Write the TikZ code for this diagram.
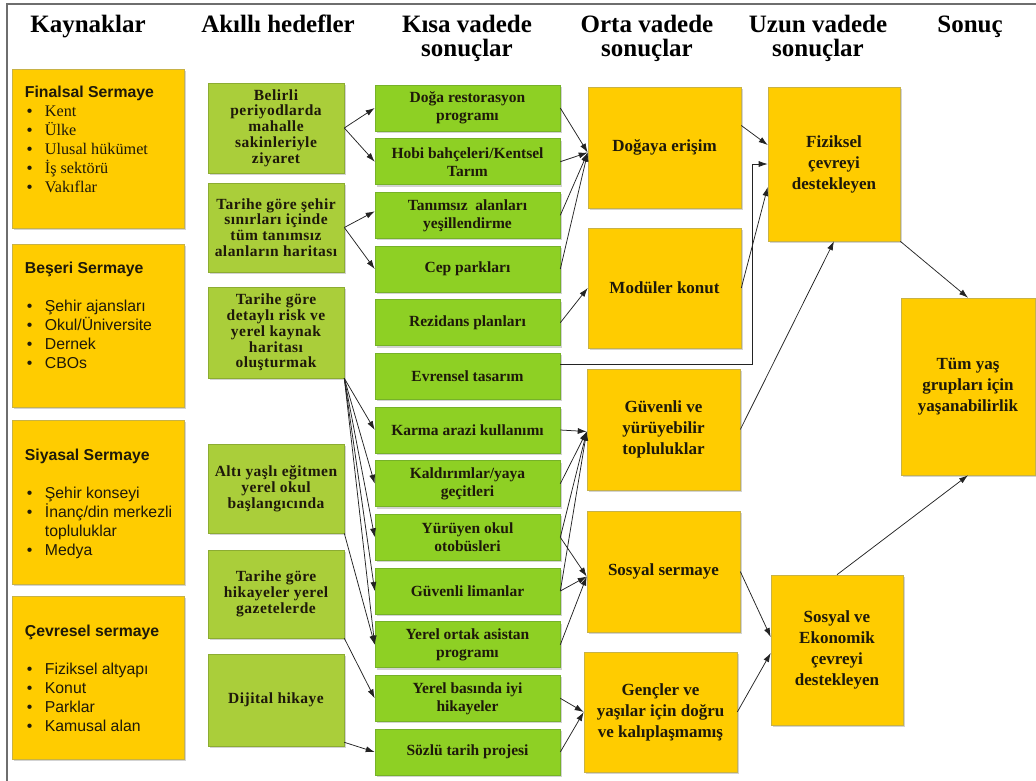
\documentclass[tikz,border=0pt]{standalone}
\usepackage{fontspec}
\setmainfont{Liberation Serif}
\setsansfont{Liberation Sans}
\usetikzlibrary{arrows.meta,shadows,calc}

\definecolor{sari}{RGB}{255,204,0}
\definecolor{sariKenar}{RGB}{200,178,70}
\definecolor{acikYesil}{RGB}{170,206,58}
\definecolor{acikKenar}{RGB}{140,172,50}
\definecolor{yesil}{RGB}{142,208,36}
\definecolor{yesilKenar}{RGB}{118,178,40}
\definecolor{metin}{RGB}{30,25,10}
\definecolor{okRenk}{RGB}{35,35,35}
\definecolor{cerceve}{RGB}{110,110,110}

\newcommand{\kalem}[1]{\hspace*{2pt}\makebox[18pt][l]{\textbullet}#1}
\newcommand{\kalemR}[1]{\hspace*{2pt}\makebox[18pt][l]{\textbullet}{\rmfamily\fontsize{16.2}{19}\selectfont #1}}

\tikzset{
  kutu/.style={draw=sariKenar, fill=sari, line width=0.6pt, inner sep=2pt, align=center, text=metin,
    drop shadow={shadow xshift=1.5pt, shadow yshift=-2pt, opacity=0.35},
    font=\bfseries\fontsize{17}{21}\selectfont},
  kaynak/.style={kutu, minimum width=172pt, minimum height=162pt},
  kaynakmetin/.style={align=left, inner sep=0pt, text=metin, font=\sffamily\fontsize{15.8}{19}\selectfont},
  hedef/.style={kutu, draw=acikKenar, fill=acikYesil, minimum width=136pt, minimum height=90pt,
    font=\bfseries\fontsize{15.5}{15.8}\selectfont\addfontfeature{LetterSpace=3}},
  kisa/.style={kutu, draw=yesilKenar, fill=yesil, minimum width=185pt, minimum height=46pt,
    font=\bfseries\fontsize{15.5}{18}\selectfont},
  orta/.style={kutu, minimum width=153pt, minimum height=121pt},
  uzun/.style={kutu, minimum width=132pt},
  baslik/.style={font=\bfseries\fontsize{25}{24}\selectfont, align=center, inner sep=0pt},
  ok/.style={draw=okRenk, line width=0.75pt, -{Latex[length=9pt,width=6pt]}},
}

\begin{document}
\begin{tikzpicture}[x=1pt,y=1pt,yscale=-1]
\useasboundingbox (0,0) rectangle (1036,780);
\draw[cerceve, line width=1.6pt] (7,782) -- (7,4) -- (1038,4);

% basliklar
\node[baslik, anchor=base] (hKay) at (88,32) {Kaynaklar};
\node[baslik, anchor=base] (hAkil) at (278,32) {Akıllı hedefler};
\node[baslik, anchor=base] (hKisa) at (467,56) {Kısa vadede\\sonuçlar};
\node[baslik, anchor=base] (hOrta) at (647,56) {Orta vadede\\sonuçlar};
\node[baslik, anchor=base] (hUzun) at (818,56) {Uzun vadede\\sonuçlar};
\node[baslik, anchor=base] (hSonuc) at (970,32) {Sonuç};

% kaynaklar
\node[kaynak, minimum height=159pt] (fin) at (98,148.5) {};
\node[kaynak, minimum height=163pt] (bes) at (98,325.5) {};
\node[kaynak, minimum height=164pt] (siy) at (98,502) {};
\node[kaynak, minimum height=163pt] (cev) at (98,677.5) {};
\node[kaynakmetin, anchor=north west] (finM) at ($(fin.north west)+(13,17)$)
  {\textbf{Finalsal Sermaye}\\\kalemR{Kent}\\\kalemR{Ülke}\\\kalemR{Ulusal hükümet}\\\kalemR{İş sektörü}\\\kalemR{Vakıflar}};
\node[kaynakmetin, anchor=north west] (besM) at ($(bes.north west)+(13,18)$)
  {\textbf{Beşeri Sermaye}\\[19pt]\kalem{Şehir ajansları}\\\kalem{Okul/Üniversite}\\\kalem{Dernek}\\\kalem{CBOs}};
\node[kaynakmetin, anchor=north west] (siyM) at ($(siy.north west)+(13,29)$)
  {\textbf{Siyasal Sermaye}\\[19pt]\kalem{Şehir konseyi}\\\kalem{İnanç/din merkezli}\\\hspace*{20pt}topluluklar\\\kalem{Medya}};
\node[kaynakmetin, anchor=north west] (cevM) at ($(cev.north west)+(13,29)$)
  {\textbf{Çevresel sermaye}\\[19pt]\kalem{Fiziksel altyapı}\\\kalem{Konut}\\\kalem{Parklar}\\\kalem{Kamusal alan}};

% akilli hedefler
\node[hedef] (b1) at (276,128) {Belirli\\periyodlarda\\mahalle\\sakinleriyle\\ziyaret};
\node[hedef, minimum height=89pt] (b2) at (276,227.5) {Tarihe göre şehir\\sınırları içinde\\tüm tanımsız\\alanların haritası};
\node[hedef, minimum height=91pt] (b3) at (276,332.5) {Tarihe göre\\detaylı risk ve\\yerel kaynak\\haritası\\oluşturmak};
\node[hedef, minimum height=89pt] (b4) at (276,488.5) {Altı yaşlı eğitmen\\yerel okul\\başlangıcında};
\node[hedef, minimum height=88pt] (b5) at (276,594) {Tarihe göre\\hikayeler yerel\\gazetelerde};
\node[hedef, minimum height=92pt] (b6) at (276,700) {Dijital hikaye};

% kisa vadede
\node[kisa] (g1) at (467.5,108) {Doğa restorasyon\\programı};
\node[kisa] (g2) at (467.5,161.7) {Hobi bahçeleri/Kentsel\\Tarım};
\node[kisa] (g3) at (467.5,215.3) {Tanımsız~ alanları\\yeşillendirme};
\node[kisa] (g4) at (467.5,269) {Cep parkları};
\node[kisa] (g5) at (467.5,322.7) {Rezidans planları};
\node[kisa] (g6) at (467.5,376.3) {Evrensel tasarım};
\node[kisa] (g7) at (467.5,430) {Karma arazi kullanımı};
\node[kisa] (g8) at (467.5,483.7) {Kaldırımlar/yaya\\geçitleri};
\node[kisa] (g9) at (467.5,537.3) {Yürüyen okul\\otobüsleri};
\node[kisa] (g10) at (467.5,591) {Güvenli limanlar};
\node[kisa] (g11) at (467.5,644.7) {Yerel ortak asistan\\programı};
\node[kisa] (g12) at (467.5,698.3) {Yerel basında iyi\\hikayeler};
\node[kisa] (g13) at (467.5,752) {Sözlü tarih projesi};

% orta vadede
\node[orta] (o1) at (664.5,147.5) {Doğaya erişim};
\node[orta, minimum height=120pt] (o2) at (664.5,288) {Modüler konut};
\node[orta] (o3) at (663.5,429.5) {Güvenli ve\\yürüyebilir\\topluluklar};
\node[orta] (o4) at (663.5,571.5) {Sosyal sermaye};
\node[orta, minimum height=120pt] (o5) at (660.5,712) {Gençler ve\\yaşılar için doğru\\ve kalıplaşmamış};

% uzun vadede ve sonuc
\node[uzun, minimum height=154pt] (u1) at (834,164) {Fiziksel\\çevreyi\\destekleyen};
\node[uzun, minimum height=150pt] (u2) at (837,650) {Sosyal ve\\Ekonomik\\çevreyi\\destekleyen};
\node[kutu, minimum width=134pt, minimum height=177pt] (r) at (968,386.5) {Tüm yaş\\grupları için\\yaşanabilirlik};

% hedefler -> kisa vadede
\draw[ok] (b1.east) -- (g1.west);
\draw[ok] (b1.east) -- (g2.west);
\draw[ok] (b2.east) -- ($(g3.west)+(0,-4)$);
\draw[ok] (b2.east) -- (g4.west);
\foreach \k in {g7,g8,g9,g10,g11}
  \draw[ok] (b3.south east) -- (\k.west);
\draw[ok] (b4.south east) -- (g11.west);
\draw[ok] (b5.south east) -- (g12.west);
\draw[ok] ($(b6.south east)+(0,-4)$) -- (g13.west);

% kisa -> orta vadede
\coordinate (o1in) at ($(o1.west)+(0,5)$);
\coordinate (o3in) at ($(o3.west)+(0,2)$);
\coordinate (o4in) at ($(o4.west)+(0,5)$);
\foreach \k in {g1,g2,g3,g4}
  \draw[ok] (\k.east) -- (o1in);
\draw[ok] (g5.east) -- (o2.west);
\draw[ok] ($(g6.east)+(0,-12)$) -| ($(u1.west)+(-15,0)$) -- (u1.west);
\foreach \k in {g7,g8,g9,g10}
  \draw[ok] (\k.east) -- (o3in);
\foreach \k in {g9,g10,g11}
  \draw[ok] (\k.east) -- (o4in);
\draw[ok] (g12.east) -- (o5.west);
\draw[ok] (g13.east) -- (o5.west);

% orta -> uzun vadede -> sonuc
\draw[ok] ($(o1.east)+(0,-22)$) -- ($(u1.west)+(0,-19)$);
\draw[ok] (o2.east) -- ($(u1.west)+(0,23)$);
\draw[ok] (o3.east) -- (u1.south);
\draw[ok] (o4.east) -- ($(u2.west)+(0,-13)$);
\draw[ok] (o5.east) -- ($(u2.west)+(0,3)$);
\draw[ok] (u1.south east) -- (r.north);
\draw[ok] (u2.north) -- (r.south);
\end{tikzpicture}
\end{document}
